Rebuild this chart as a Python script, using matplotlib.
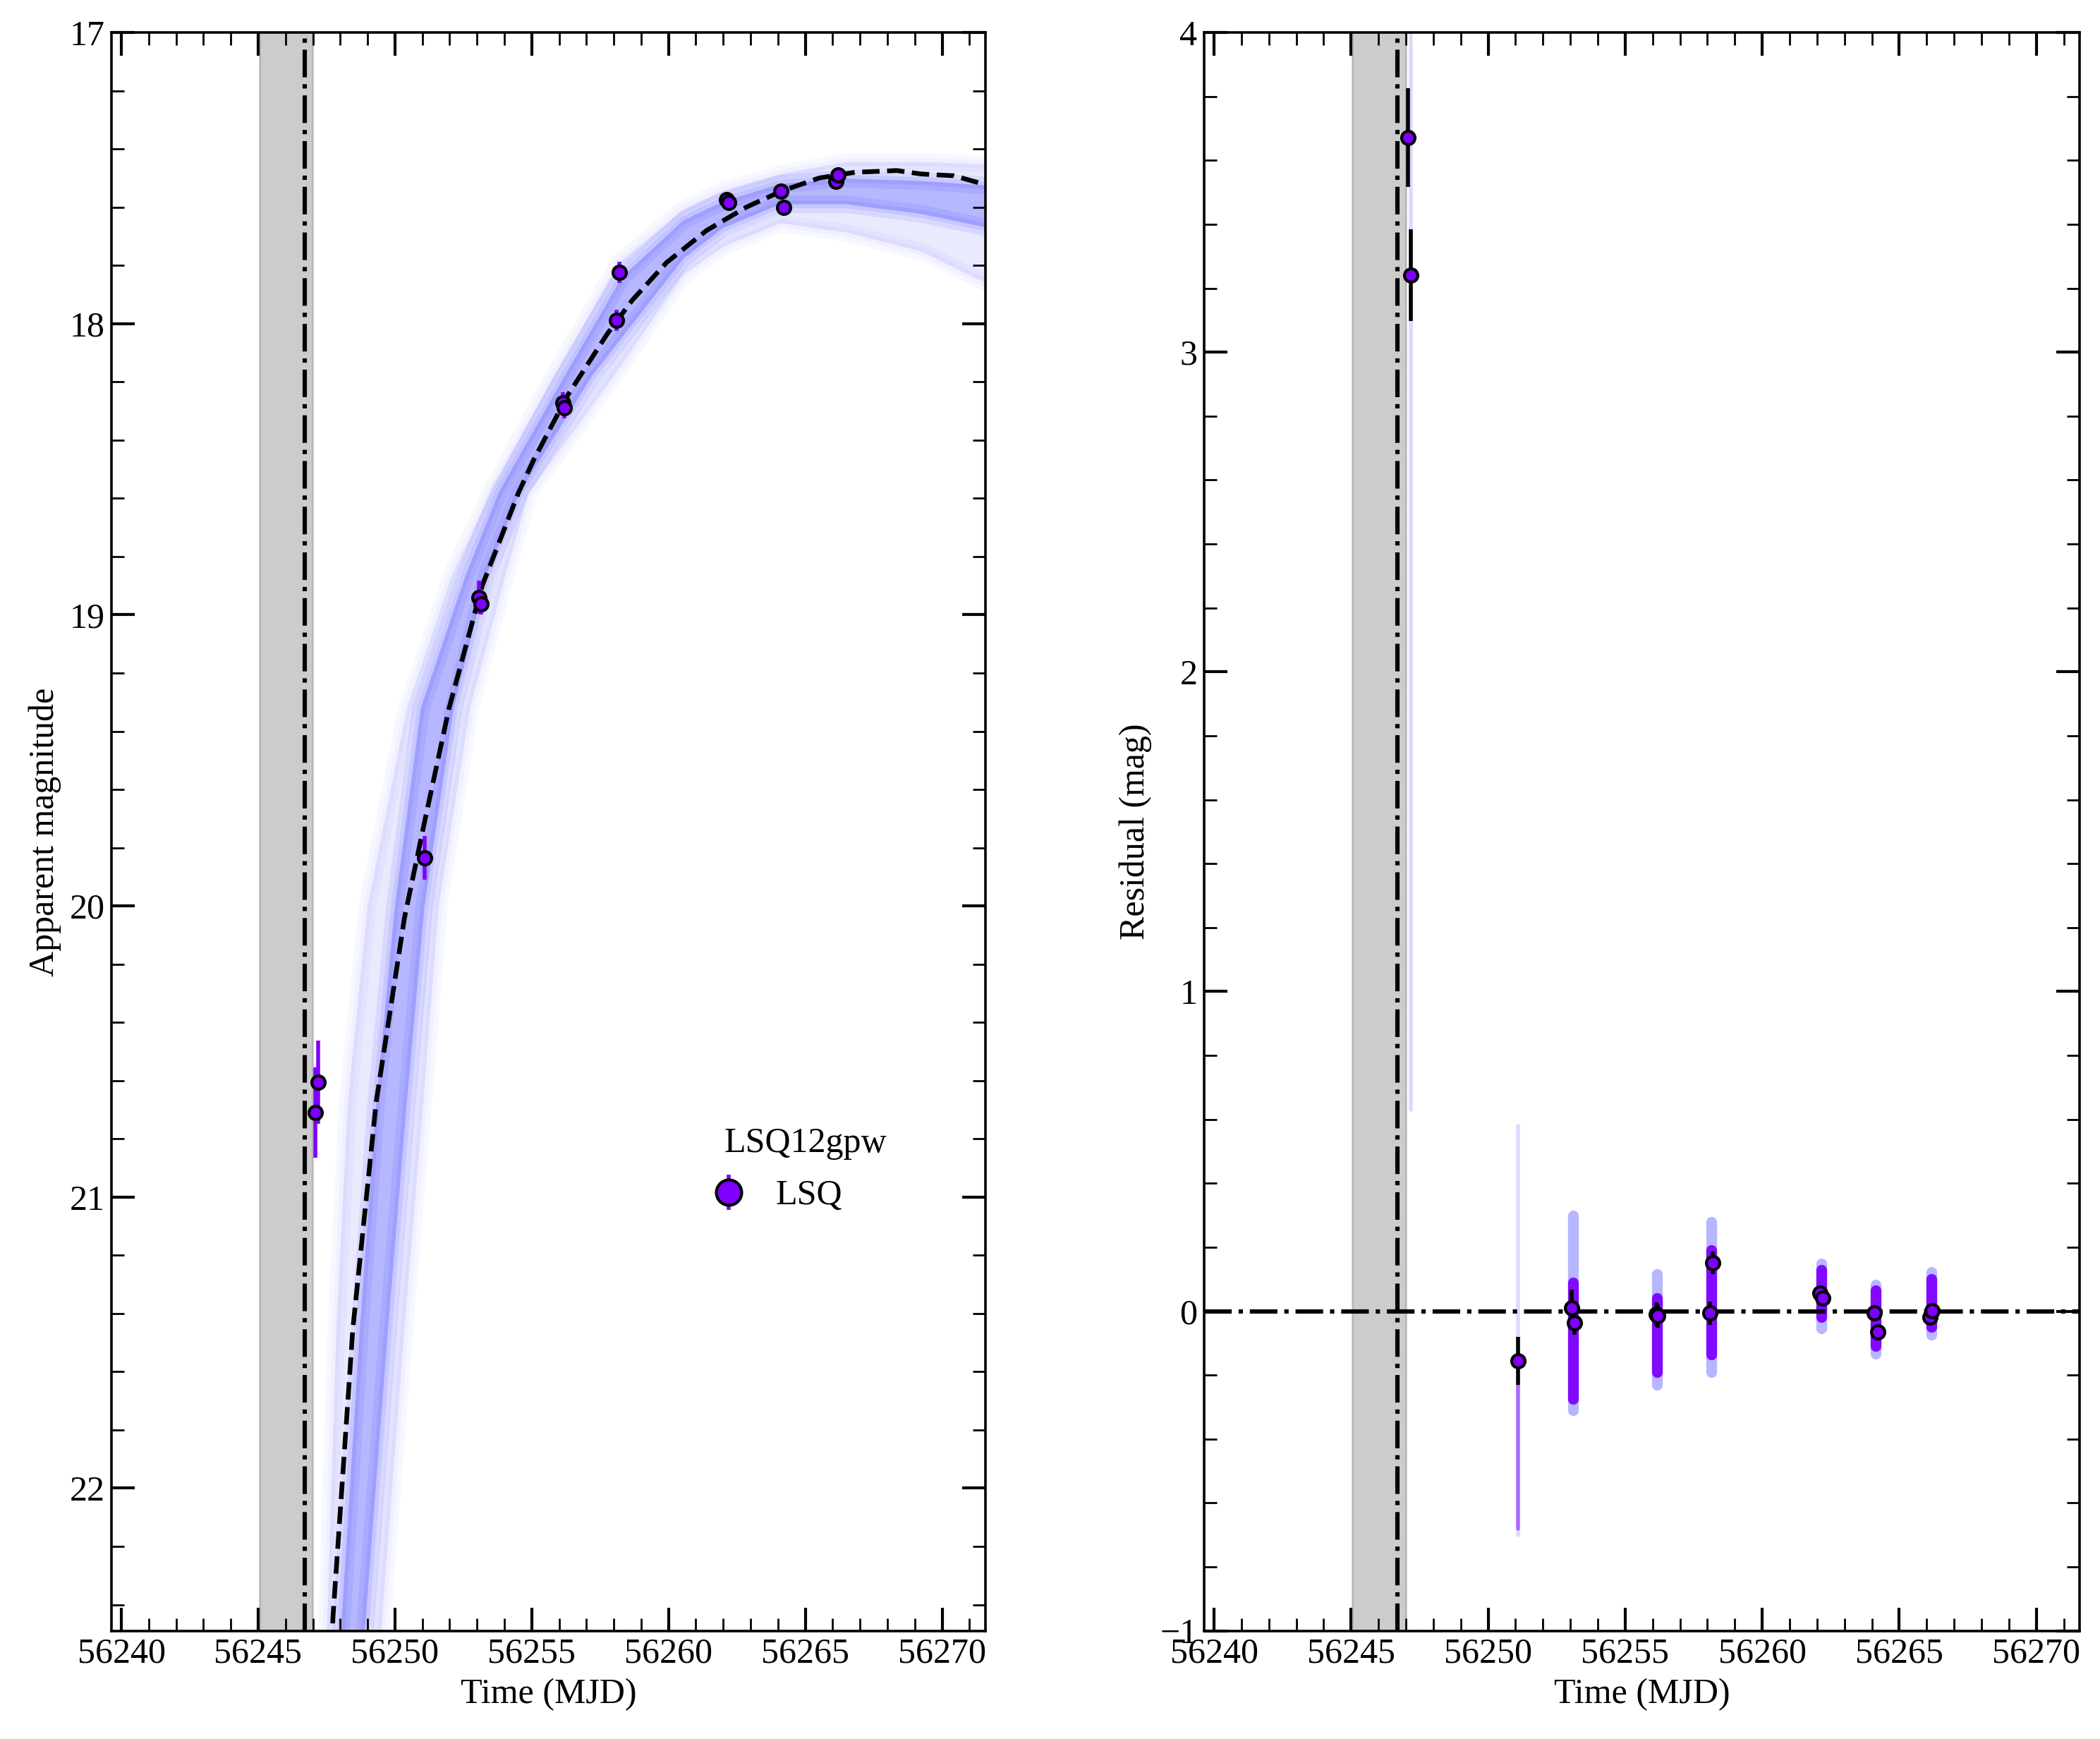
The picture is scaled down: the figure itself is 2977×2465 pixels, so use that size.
import matplotlib
matplotlib.use('Agg')
from matplotlib import pyplot as plt
import numpy as np

plt.rcParams['font.family'] = ['Liberation Serif', 'DejaVu Serif']
plt.rcParams['font.size'] = 18

MJD0 = 56240.0

# LSQ photometry (days after MJD0)
obs_t = np.array([7.08, 7.19, 11.09, 13.06, 13.15, 16.14, 16.20, 18.10, 18.20,
                  22.11, 22.20, 24.10, 24.21, 26.13, 26.20])
obs_mag = np.array([20.710, 20.605, 19.834, 18.940, 18.963, 18.273, 18.288, 17.988, 17.823,
                    17.575, 17.584, 17.545, 17.600, 17.510, 17.490])
obs_err = np.array([0.155, 0.143, 0.075, 0.057, 0.036, 0.037, 0.037, 0.036, 0.036,
                    0.02, 0.02, 0.02, 0.02, 0.02, 0.02])
res_mag = np.array([3.671, 3.241, -0.156, 0.010, -0.037, -0.010, -0.015, -0.006, 0.151,
                    0.056, 0.041, -0.005, -0.064, -0.019, 0.001])

# best-fit model light curve
model_t = [7.70, 7.73, 8.46, 9.32, 10.35, 11.12, 11.98, 13.19, 14.52, 15.06, 16.32, 17.77,
           18.67, 19.93, 21.39, 22.84, 24.10, 25.50, 26.82, 27.90, 28.34, 29.24, 30.43, 31.41, 31.70]
model_mag = [22.55, 22.45, 21.454, 20.67, 20.04, 19.695, 19.32, 18.90, 18.58, 18.47, 18.245, 18.034,
             17.92, 17.79, 17.68, 17.60, 17.546, 17.50, 17.48, 17.476, 17.474, 17.486, 17.492, 17.518, 17.53]

# envelope of posterior sample curves (outer faint edge and dense core)
outer_hi_t = [7.51, 7.86, 8.28, 9.00, 10.44, 12.10, 13.50, 15.80, 18.20, 20.55, 22.0, 24.09, 26.5, 29.24, 31.7]
outer_hi_m = [22.5, 21.45, 20.67, 20.0, 19.32, 18.86, 18.58, 18.18, 17.79, 17.607, 17.542, 17.486, 17.445, 17.445, 17.453]
outer_lo_t = [9.49, 10.35, 11.04, 11.60, 12.75, 14.05, 14.90, 18.00, 20.55, 22.0, 24.09, 26.5, 29.24, 31.7]
outer_lo_m = [22.5, 21.45, 20.67, 20.0, 19.32, 18.86, 18.58, 18.18, 17.833, 17.736, 17.655, 17.687, 17.752, 17.865]
core_hi_t = [8.02, 8.72, 9.32, 10.0, 10.95, 12.6, 13.80, 16.20, 18.30, 20.55, 22.0, 24.09, 26.5, 29.24, 31.7]
core_hi_m = [22.5, 21.45, 20.67, 20.0, 19.32, 18.86, 18.58, 18.18, 17.84, 17.645, 17.58, 17.52, 17.502, 17.51, 17.526]
core_lo_t = [8.89, 9.75, 10.44, 11.08, 12.15, 13.36, 14.56, 17.20, 20.55, 22.0, 24.09, 26.5, 29.24, 31.7]
core_lo_m = [22.5, 21.45, 20.67, 20.0, 19.32, 18.86, 18.58, 18.18, 17.776, 17.671, 17.59, 17.59, 17.623, 17.671]

# residual spread of sample curves at each epoch
smear_t = [7.17, 11.09, 13.10, 16.17, 18.15, 22.15, 24.15, 26.17]
smear_top = [4.2, 0.58, 0.30, 0.115, 0.28, 0.15, 0.083, 0.123]
smear_bot = [0.63, -0.70, -0.31, -0.23, -0.19, -0.054, -0.134, -0.073]
core_top = [np.nan, -0.23, 0.09, 0.04, 0.19, 0.13, 0.065, 0.10]
core_bot = [np.nan, -0.68, -0.275, -0.19, -0.135, -0.018, -0.11, -0.05]

explosion_lo, explosion_hi = 56245.04, 56246.99
explosion_t = 56246.70

purple = '#7f00ff'
sample_blue = '#3333ff'

fig = plt.figure(figsize=(14.885, 12.325), dpi=200)
ax1 = fig.add_axes([0.0531, 0.0622, 0.4161, 0.9191])
ax2 = fig.add_axes([0.5734, 0.0622, 0.4169, 0.9191])


def band(ax, hi_t, hi_m, lo_t, lo_m, alpha):
    xs = np.concatenate([np.array(hi_t) + MJD0, (np.array(lo_t) + MJD0)[::-1]])
    ys = np.concatenate([hi_m, lo_m[::-1]])
    ax.fill(xs, ys, color=sample_blue, alpha=alpha, lw=0, zorder=1)
    # soften the two long edges
    for et, em in ((hi_t, hi_m), (lo_t, lo_m)):
        for lw in (9, 4):
            ax.plot(np.array(et) + MJD0, em, color=sample_blue, alpha=alpha * 0.35,
                    lw=lw, solid_capstyle='butt', solid_joinstyle='round', zorder=1)


# light curve panel
band(ax1, outer_hi_t, outer_hi_m, outer_lo_t, outer_lo_m, 0.10)
band(ax1, core_hi_t, core_hi_m, core_lo_t, core_lo_m, 0.28)
ax1.plot(np.array(model_t) + MJD0, model_mag, 'k--', lw=2.4, zorder=3)
ax1.errorbar(obs_t + MJD0, obs_mag, yerr=obs_err, fmt='o', color=purple, mfc=purple,
             mec='k', mew=1.5, ms=6.8, elinewidth=2, capsize=0, zorder=4, label='LSQ')

# residual panel
for t, top, bot, ct, cb in zip(smear_t, smear_top, smear_bot, core_top, core_bot):
    long_smear = top - bot > 1.0
    w = 2.0 if long_smear else 5.5
    ax2.plot([t + MJD0, t + MJD0], [bot, top], color=sample_blue,
             alpha=0.18 if long_smear else 0.35, lw=w,
             solid_capstyle='round', zorder=1)
    if not np.isnan(ct):
        ax2.plot([t + MJD0, t + MJD0], [cb, ct], color=purple, alpha=0.5 if long_smear else 0.95,
                 lw=w, solid_capstyle='round', zorder=2)
ax2.axhline(0, color='k', ls='-.', lw=2.2, zorder=3)
ax2.errorbar(obs_t + MJD0, res_mag, yerr=obs_err, fmt='o', color='k', mfc=purple,
             mec='k', mew=1.5, ms=6.8, elinewidth=2, capsize=0, zorder=4)

for ax in (ax1, ax2):
    ax.axvspan(explosion_lo, explosion_hi, color='grey', alpha=0.4, zorder=0)
    ax.axvline(explosion_t, color='k', ls='-.', lw=2.2, zorder=3)
    ax.set_xlim(56239.64, 56271.58)
    ax.set_xticks(np.arange(56240, 56271, 5))
    ax.set_xticks(np.arange(56240, 56272, 1), minor=True)
    ax.tick_params(which='both', direction='in', top=True, right=True, labelsize=18)
    ax.tick_params(which='major', length=12, width=1.5)
    ax.tick_params(which='minor', length=6.5, width=1.0)
    for s in ax.spines.values():
        s.set_linewidth(1.3)
    ax.set_xlabel('Time (MJD)', fontsize=18)

ax1.set_ylim(22.49, 17)
ax1.set_yticks([17, 18, 19, 20, 21, 22])
ax1.set_yticks(np.arange(17, 22.5, 0.2), minor=True)
ax1.set_ylabel('Apparent magnitude', fontsize=18)
ax1.legend(frameon=False, markerscale=1.9, fontsize=18, handlelength=1.0,
           handletextpad=0.83, borderpad=0.4, loc='center left',
           bbox_to_anchor=(0.650, 0.2722))
ax1.text(0.7013, 0.2994, 'LSQ12gpw', transform=ax1.transAxes, fontsize=18,
         ha='left', va='baseline')

ax2.set_ylim(-1, 4)
ax2.set_yticks([-1, 0, 1, 2, 3, 4])
ax2.set_yticks(np.arange(-1, 4.01, 0.2), minor=True)
ax2.set_ylabel('Residual (mag)', fontsize=18)

fig.savefig('out.png', dpi=200)
